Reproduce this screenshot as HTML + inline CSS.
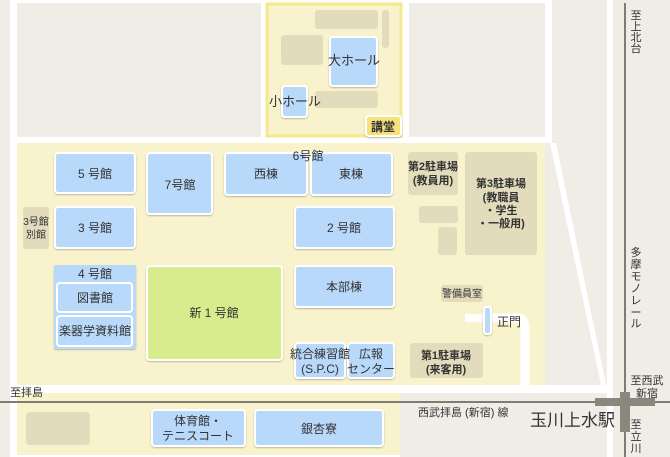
<!DOCTYPE html>
<html><head><meta charset="utf-8"><style>
body{margin:0;width:670px;height:457px;overflow:hidden;background:#fff}
svg{display:block}
text{font-family:"Liberation Sans","Noto Sans CJK JP",sans-serif;fill:#333}
.b{fill:#b9d9fb;stroke:#fff;stroke-width:2}
.t{fill:#e2dcbd}
</style></head><body>
<svg width="670" height="457" viewBox="0 0 670 457" font-size="12">
<defs><filter id="s" x="-10%" y="-10%" width="120%" height="130%"><feDropShadow dx="0" dy="1" stdDeviation="0.8" flood-color="#000" flood-opacity="0.25"/></filter></defs>
<rect width="670" height="457" fill="#fff"/>
<g fill="#efede6">
<rect x="0" y="0" width="10" height="457"/>
<rect x="17" y="3" width="244" height="134"/>
<rect x="409" y="3" width="136" height="134"/>
<polygon points="552,0 607,0 607,385 606,385 556,143 552,143"/>
<polygon points="545,143 550,143 601,385 545,385"/>
<rect x="613" y="0" width="57" height="457"/>
<rect x="400" y="393" width="207" height="64"/>
</g>
<rect x="17" y="143" width="528" height="242" fill="#f8f3cd"/>
<rect x="17" y="393" width="383" height="62" fill="#f8f3cd"/>
<rect x="267" y="4" width="134" height="132" fill="#f8f3cd" stroke="#f6e88c" stroke-width="3"/>
<rect x="465" y="314" width="22" height="8" fill="#fff" opacity="0.9"/>
<path d="M490 318 H518 Q525 318 525 328 V385" fill="none" stroke="#fff" stroke-width="9"/>
<line x1="625" y1="3" x2="625" y2="457" stroke="#7f7c72" stroke-width="2"/>
<line x1="0" y1="402" x2="670" y2="402" stroke="#7f7c72" stroke-width="2"/>
<rect x="620" y="392" width="10" height="40" fill="#8a877c"/>
<rect x="595" y="398" width="60" height="8" fill="#8a877c"/>
<g class="t">
<rect x="315" y="10" width="63" height="19" rx="3"/>
<rect x="281" y="35" width="42" height="30" rx="3"/>
<rect x="315" y="91" width="63" height="17" rx="3"/>
<rect x="382" y="10" width="7" height="38" rx="3"/>
<rect x="23" y="207" width="26" height="42" rx="3"/>
<rect x="408" y="152" width="50" height="43" rx="3"/>
<rect x="465" y="152" width="72" height="103" rx="3"/>
<rect x="419" y="206" width="39" height="17" rx="3"/>
<rect x="438" y="227" width="19" height="28" rx="3"/>
<rect x="441" y="285" width="42" height="17" rx="3"/>
<rect x="410" y="343" width="73" height="35" rx="3"/>
<rect x="26" y="412" width="64" height="33" rx="4"/>
</g>
<g filter="url(#s)">
<rect class="b" x="330" y="37" width="47" height="49" rx="3"/>
<rect class="b" x="282" y="86" width="25" height="31" rx="3"/>
<rect class="b" x="55" y="153" width="80" height="40" rx="3"/>
<rect class="b" x="147" y="153" width="65" height="61" rx="3"/>
<rect class="b" x="225" y="153" width="82" height="42" rx="3"/>
<rect class="b" x="311" y="153" width="81" height="42" rx="3"/>
<rect class="b" x="55" y="207" width="80" height="41" rx="3"/>
<rect x="54" y="265" width="82" height="84" rx="2" fill="#b9d9fb"/>
<rect class="b" x="57" y="283" width="75" height="29" rx="3"/>
<rect class="b" x="57" y="316" width="75" height="30" rx="3"/>
<rect x="147" y="266" width="135" height="94" rx="3" fill="#d9ec8d" stroke="#fff" stroke-width="2"/>
<rect class="b" x="295" y="207" width="99" height="41" rx="3"/>
<rect class="b" x="295" y="266" width="99" height="41" rx="3"/>
<rect class="b" x="295" y="343" width="50" height="35" rx="3"/>
<rect class="b" x="348" y="343" width="46" height="35" rx="3"/>
<rect class="b" x="484" y="307" width="7" height="27" rx="3"/>
<rect class="b" x="152" y="410" width="93" height="36" rx="3"/>
<rect class="b" x="255" y="410" width="128" height="36" rx="3"/>
<rect x="366" y="116" width="35" height="20" rx="3" fill="#f5e27a" stroke="#fff" stroke-width="2"/>
</g>
<g text-anchor="middle">
<text x="354" y="65" font-size="13">大ホール</text>
<text x="295" y="106" font-size="13">小ホール</text>
<text x="383" y="131" font-weight="bold">講堂</text>
<text x="95" y="178">5 号館</text>
<text x="180" y="189">7号館</text>
<text x="266" y="178">西棟</text>
<text x="351" y="178">東棟</text>
<text x="308" y="160">6号館</text>
<text x="95" y="232">3 号館</text>
<text x="36" y="225" font-size="10">3号館</text>
<text x="36" y="238" font-size="10">別館</text>
<text x="95" y="278">4 号館</text>
<text x="95" y="302">図書館</text>
<text x="95" y="335">楽器学資料館</text>
<text x="214" y="317">新 1 号館</text>
<text x="344" y="232">2 号館</text>
<text x="344" y="291">本部棟</text>
<text x="320" y="358">統合練習館</text>
<text x="320" y="373">(S.P.C)</text>
<text x="371" y="358">広報</text>
<text x="371" y="373">センター</text>
<text x="433" y="170" font-size="11" font-weight="bold">第2駐車場</text>
<text x="433" y="184" font-size="11" font-weight="bold">(教員用)</text>
<text x="501" y="187" font-size="11" font-weight="bold">第3駐車場</text>
<text x="501" y="201" font-size="11" font-weight="bold">(教職員</text>
<text x="501" y="214" font-size="11" font-weight="bold">・学生</text>
<text x="501" y="227" font-size="11" font-weight="bold">・一般用)</text>
<text x="462" y="297" font-size="10">警備員室</text>
<text x="446" y="359" font-size="11" font-weight="bold">第1駐車場</text>
<text x="446" y="373" font-size="11" font-weight="bold">(来客用)</text>
<text x="198" y="425">体育館・</text>
<text x="198" y="440">テニスコート</text>
<text x="319" y="433">銀杏寮</text>
<text x="647" y="384" font-size="11">至西武</text>
<text x="647" y="397" font-size="11">新宿</text>
</g>
<text x="497" y="326">正門</text>
<text x="10" y="396" font-size="11">至拝島</text>
<text x="418" y="416" font-size="11">西武拝島 (新宿) 線</text>
<text x="530" y="426" font-size="17">玉川上水駅</text>
<g text-anchor="middle" font-size="11">
<text x="636" y="19">至</text><text x="636" y="30">上</text><text x="636" y="41">北</text><text x="636" y="52">台</text>
<text x="636" y="256">多</text><text x="636" y="268">摩</text><text x="636" y="280">モ</text><text x="636" y="292">ノ</text><text x="636" y="304">レ</text><text x="636" y="316">ー</text><text x="636" y="327">ル</text>
<text x="636" y="428">至</text><text x="636" y="440">立</text><text x="636" y="452">川</text>
</g>
</svg>
</body></html>
